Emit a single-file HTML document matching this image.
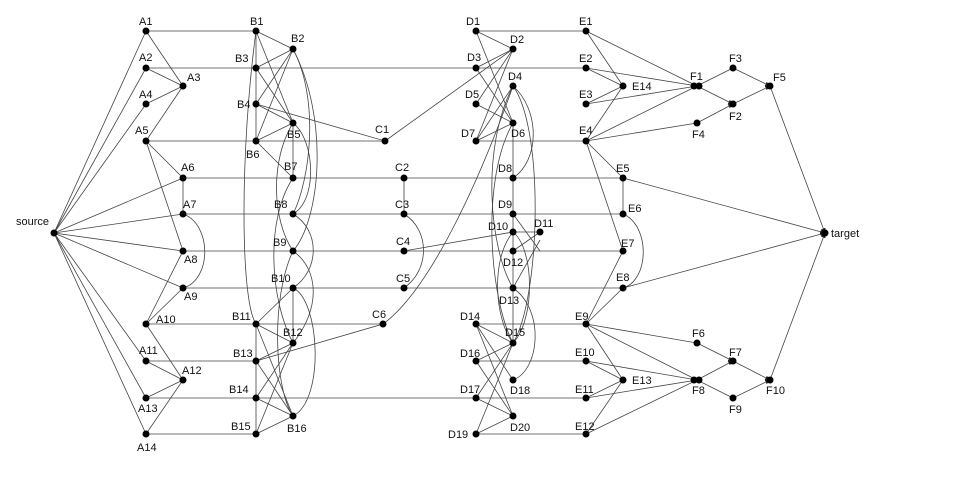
<!DOCTYPE html>
<html><head><meta charset="utf-8">
<style>
html,body{margin:0;padding:0;background:#fff;}
svg{display:block}
text{font-family:"Liberation Sans",sans-serif;font-size:11px;fill:#111}
line,path{stroke:#444;stroke-width:0.8;fill:none}
circle{fill:#000}
</style></head><body>
<svg width="956" height="495" viewBox="0 0 956 495" xmlns="http://www.w3.org/2000/svg">
<defs><marker id="ar" markerWidth="6" markerHeight="6" refX="6" refY="3" orient="auto"><path d="M0,0 L6,3 L0,6 z" style="fill:#222;stroke:none"/></marker></defs>
<g>
<!-- source edges -->
<line x1="54" y1="233" x2="146" y2="31"/>
<line x1="54" y1="233" x2="146" y2="68"/>
<line x1="54" y1="233" x2="146" y2="104"/>
<line x1="54" y1="233" x2="183" y2="178"/>
<line x1="54" y1="233" x2="183" y2="214"/>
<line x1="54" y1="233" x2="183" y2="251"/>
<line x1="54" y1="233" x2="183" y2="288"/>
<line x1="54" y1="233" x2="146" y2="361"/>
<line x1="54" y1="233" x2="146" y2="398"/>
<line x1="54" y1="233" x2="146" y2="434"/>
<!-- horizontals -->
<line x1="146" y1="31" x2="256" y2="31"/>
<line x1="476" y1="31" x2="586" y2="31"/>
<line x1="146" y1="68" x2="586" y2="68"/>
<line x1="146" y1="141" x2="385" y2="141"/>
<line x1="476" y1="141" x2="586" y2="141"/>
<line x1="183" y1="178" x2="623" y2="178"/>
<line x1="183" y1="214" x2="623" y2="214"/>
<line x1="183" y1="251" x2="623" y2="251"/>
<line x1="183" y1="288" x2="623" y2="288"/>
<line x1="146" y1="324" x2="383" y2="324"/>
<line x1="476" y1="324" x2="586" y2="324"/>
<line x1="146" y1="361" x2="256" y2="361"/>
<line x1="476" y1="361" x2="586" y2="361"/>
<line x1="146" y1="398" x2="586" y2="398"/>
<line x1="146" y1="434" x2="256" y2="434"/>
<line x1="476" y1="434" x2="586" y2="434"/>
<!-- A -->
<line x1="146" y1="31" x2="183" y2="86"/>
<line x1="146" y1="68" x2="183" y2="86"/>
<line x1="146" y1="104" x2="183" y2="86"/>
<line x1="183" y1="86" x2="146" y2="141"/>
<line x1="146" y1="141" x2="183" y2="178"/>
<line x1="146" y1="141" x2="183" y2="251"/>
<line x1="183" y1="178" x2="183" y2="214"/>
<path d="M183,214 C212,224 212,280 183,288"/>
<line x1="146" y1="324" x2="183" y2="251"/>
<line x1="146" y1="324" x2="183" y2="288"/>
<line x1="146" y1="324" x2="183" y2="380"/>
<line x1="146" y1="361" x2="183" y2="380"/>
<line x1="146" y1="398" x2="183" y2="380"/>
<line x1="183" y1="380" x2="146" y2="434"/>
<!-- B -->
<line x1="256" y1="31" x2="293" y2="49"/>
<line x1="256" y1="31" x2="256" y2="141"/>
<line x1="256" y1="31" x2="293" y2="123"/>
<path d="M256,31 C240,150 240,300 256,324"/>
<line x1="293" y1="49" x2="256" y2="68"/>
<line x1="293" y1="49" x2="256" y2="104"/>
<line x1="293" y1="49" x2="256" y2="141"/>
<path d="M293,49 C320,100 310,180 293,214"/>
<path d="M293,49 C330,120 320,220 293,251"/>
<line x1="256" y1="68" x2="293" y2="123"/>
<line x1="256" y1="104" x2="293" y2="123"/>
<line x1="256" y1="104" x2="385" y2="141"/>
<line x1="293" y1="123" x2="256" y2="141"/>
<line x1="293" y1="123" x2="293" y2="178"/>
<line x1="256" y1="141" x2="293" y2="178"/>
<path d="M293,123 C315,140 318,200 293,214"/>
<path d="M293,123 C270,160 272,220 293,251"/>
<path d="M293,214 C320,230 320,270 293,288"/>
<path d="M293,251 C320,270 320,310 293,343"/>
<path d="M293,288 C320,300 325,400 293,416"/>
<path d="M293,178 C265,220 270,300 293,343"/>
<line x1="293" y1="288" x2="293" y2="343"/>
<line x1="256" y1="324" x2="293" y2="288"/>
<line x1="256" y1="324" x2="293" y2="343"/>
<line x1="256" y1="324" x2="256" y2="434"/>
<line x1="256" y1="324" x2="293" y2="416"/>
<line x1="256" y1="361" x2="293" y2="343"/>
<line x1="256" y1="361" x2="383" y2="324"/>
<line x1="256" y1="361" x2="293" y2="416"/>
<line x1="256" y1="398" x2="293" y2="343"/>
<line x1="256" y1="398" x2="293" y2="416"/>
<line x1="256" y1="434" x2="293" y2="343"/>
<line x1="256" y1="434" x2="293" y2="416"/>
<path d="M293,251 C270,300 275,390 293,416"/>
<!-- C -->
<line x1="385" y1="141" x2="513" y2="49"/>
<line x1="404" y1="178" x2="404" y2="214"/>
<path d="M404,214 C430,230 430,270 404,288"/>
<line x1="404" y1="251" x2="513" y2="232"/>
<path d="M383,324 C430,290 480,180 513,86"/>
<!-- D -->
<line x1="476" y1="31" x2="513" y2="49"/>
<line x1="476" y1="31" x2="513" y2="123"/>
<line x1="513" y1="49" x2="476" y2="68"/>
<line x1="513" y1="49" x2="476" y2="141"/>
<line x1="513" y1="49" x2="476" y2="104"/>
<line x1="476" y1="68" x2="513" y2="123"/>
<line x1="476" y1="104" x2="513" y2="123"/>
<line x1="476" y1="141" x2="513" y2="123"/>
<line x1="476" y1="141" x2="513" y2="86"/>
<path d="M513,86 C540,110 540,160 513,178"/>
<path d="M513,86 C545,130 540,300 513,343"/>
<path d="M513,86 C480,150 490,250 513,288"/>
<line x1="513" y1="123" x2="513" y2="343"/>
<path d="M513,123 C480,180 490,300 513,343"/>
<line x1="513" y1="214" x2="540" y2="251"/>
<line x1="513" y1="232" x2="540" y2="232"/>
<line x1="513" y1="251" x2="540" y2="232"/>
<path d="M513,232 C535,250 535,320 513,343"/>
<path d="M513,232 C490,260 495,320 513,343"/>
<line x1="513" y1="288" x2="540" y2="240"/>
<path d="M513,288 C545,310 540,370 513,380"/>
<line x1="476" y1="324" x2="513" y2="343"/>
<line x1="476" y1="324" x2="513" y2="380"/>
<line x1="476" y1="324" x2="513" y2="416"/>
<line x1="513" y1="343" x2="476" y2="361"/>
<line x1="513" y1="343" x2="476" y2="398"/>
<line x1="513" y1="343" x2="476" y2="434"/>
<line x1="476" y1="361" x2="513" y2="416"/>
<line x1="476" y1="398" x2="513" y2="416"/>
<line x1="476" y1="434" x2="513" y2="416"/>
<!-- E -->
<line x1="586" y1="31" x2="623" y2="86"/>
<line x1="586" y1="31" x2="697" y2="86"/>
<line x1="586" y1="68" x2="623" y2="86"/>
<line x1="586" y1="68" x2="697" y2="86"/>
<line x1="586" y1="104" x2="623" y2="86"/>
<line x1="586" y1="104" x2="697" y2="86"/>
<line x1="623" y1="86" x2="586" y2="141"/>
<line x1="586" y1="141" x2="697" y2="86"/>
<line x1="586" y1="141" x2="697" y2="123"/>
<line x1="586" y1="141" x2="623" y2="178"/>
<line x1="586" y1="141" x2="623" y2="251"/>
<line x1="623" y1="178" x2="623" y2="214"/>
<line x1="623" y1="178" x2="825" y2="233" marker-end="url(#ar)"/>
<path d="M623,214 C650,225 650,280 623,288"/>
<line x1="623" y1="288" x2="825" y2="233" marker-end="url(#ar)"/>
<line x1="586" y1="324" x2="623" y2="251"/>
<line x1="586" y1="324" x2="623" y2="288"/>
<line x1="586" y1="324" x2="697" y2="343"/>
<line x1="586" y1="324" x2="697" y2="380"/>
<line x1="586" y1="324" x2="623" y2="380"/>
<line x1="586" y1="361" x2="623" y2="380"/>
<line x1="586" y1="361" x2="697" y2="380"/>
<line x1="586" y1="398" x2="623" y2="380"/>
<line x1="586" y1="398" x2="697" y2="380"/>
<line x1="623" y1="380" x2="586" y2="434"/>
<line x1="586" y1="434" x2="697" y2="380"/>
<!-- F -->
<line x1="697" y1="86" x2="733" y2="68"/>
<line x1="697" y1="86" x2="733" y2="104" marker-end="url(#ar)"/>
<line x1="697" y1="123" x2="733" y2="104" marker-end="url(#ar)"/>
<line x1="733" y1="68" x2="770" y2="86" marker-end="url(#ar)"/>
<line x1="733" y1="104" x2="770" y2="86" marker-end="url(#ar)"/>
<line x1="770" y1="86" x2="825" y2="233" marker-end="url(#ar)"/>
<line x1="697" y1="343" x2="733" y2="361" marker-end="url(#ar)"/>
<line x1="697" y1="380" x2="733" y2="361" marker-end="url(#ar)"/>
<line x1="697" y1="380" x2="733" y2="398"/>
<line x1="733" y1="361" x2="770" y2="380" marker-end="url(#ar)"/>
<line x1="733" y1="398" x2="770" y2="380" marker-end="url(#ar)"/>
<line x1="770" y1="380" x2="825" y2="233" marker-end="url(#ar)"/>
</g>
<g>
<circle cx="54" cy="233" r="3.5"/><circle cx="825" cy="233" r="3.5"/>
<circle cx="146" cy="31" r="3.5"/><circle cx="146" cy="68" r="3.5"/><circle cx="183" cy="86" r="3.5"/><circle cx="146" cy="104" r="3.5"/><circle cx="146" cy="141" r="3.5"/><circle cx="183" cy="178" r="3.5"/><circle cx="183" cy="214" r="3.5"/><circle cx="183" cy="251" r="3.5"/><circle cx="183" cy="288" r="3.5"/><circle cx="146" cy="324" r="3.5"/><circle cx="146" cy="361" r="3.5"/><circle cx="183" cy="380" r="3.5"/><circle cx="146" cy="398" r="3.5"/><circle cx="146" cy="434" r="3.5"/>
<circle cx="256" cy="31" r="3.5"/><circle cx="293" cy="49" r="3.5"/><circle cx="256" cy="68" r="3.5"/><circle cx="256" cy="104" r="3.5"/><circle cx="293" cy="123" r="3.5"/><circle cx="256" cy="141" r="3.5"/><circle cx="293" cy="178" r="3.5"/><circle cx="293" cy="214" r="3.5"/><circle cx="293" cy="251" r="3.5"/><circle cx="293" cy="288" r="3.5"/><circle cx="256" cy="324" r="3.5"/><circle cx="293" cy="343" r="3.5"/><circle cx="256" cy="361" r="3.5"/><circle cx="256" cy="398" r="3.5"/><circle cx="293" cy="416" r="3.5"/><circle cx="256" cy="434" r="3.5"/>
<circle cx="385" cy="141" r="3.5"/><circle cx="404" cy="178" r="3.5"/><circle cx="404" cy="214" r="3.5"/><circle cx="404" cy="251" r="3.5"/><circle cx="404" cy="288" r="3.5"/><circle cx="383" cy="324" r="3.5"/>
<circle cx="476" cy="31" r="3.5"/><circle cx="513" cy="49" r="3.5"/><circle cx="476" cy="68" r="3.5"/><circle cx="513" cy="86" r="3.5"/><circle cx="476" cy="104" r="3.5"/><circle cx="513" cy="123" r="3.5"/><circle cx="476" cy="141" r="3.5"/><circle cx="513" cy="178" r="3.5"/><circle cx="513" cy="214" r="3.5"/><circle cx="513" cy="232" r="3.5"/><circle cx="540" cy="232" r="3.5"/><circle cx="513" cy="251" r="3.5"/><circle cx="513" cy="288" r="3.5"/><circle cx="476" cy="324" r="3.5"/><circle cx="513" cy="343" r="3.5"/><circle cx="476" cy="361" r="3.5"/><circle cx="513" cy="380" r="3.5"/><circle cx="476" cy="398" r="3.5"/><circle cx="513" cy="416" r="3.5"/><circle cx="476" cy="434" r="3.5"/>
<circle cx="586" cy="31" r="3.5"/><circle cx="586" cy="68" r="3.5"/><circle cx="623" cy="86" r="3.5"/><circle cx="586" cy="104" r="3.5"/><circle cx="586" cy="141" r="3.5"/><circle cx="623" cy="178" r="3.5"/><circle cx="623" cy="214" r="3.5"/><circle cx="623" cy="251" r="3.5"/><circle cx="623" cy="288" r="3.5"/><circle cx="586" cy="324" r="3.5"/><circle cx="586" cy="361" r="3.5"/><circle cx="623" cy="380" r="3.5"/><circle cx="586" cy="398" r="3.5"/><circle cx="586" cy="434" r="3.5"/>
<circle cx="694" cy="86" r="3.5"/><circle cx="699" cy="86" r="3.5"/><circle cx="733" cy="68" r="3.5"/><circle cx="733" cy="104" r="3.5"/><circle cx="697" cy="123" r="3.5"/><circle cx="770" cy="86" r="3.5"/>
<circle cx="697" cy="343" r="3.5"/><circle cx="733" cy="361" r="3.5"/><circle cx="694" cy="380" r="3.5"/><circle cx="699" cy="380" r="3.5"/><circle cx="733" cy="398" r="3.5"/><circle cx="770" cy="380" r="3.5"/>
</g>
<g>
<text x="16" y="225">source</text><text x="831" y="237">target</text>
<text x="139" y="25">A1</text><text x="139" y="61">A2</text><text x="187" y="81">A3</text><text x="139" y="98">A4</text><text x="135" y="134">A5</text><text x="181" y="171">A6</text><text x="183" y="208">A7</text><text x="184" y="263">A8</text><text x="184" y="300">A9</text><text x="156" y="323">A10</text><text x="139" y="354">A11</text><text x="182" y="374">A12</text><text x="138" y="412">A13</text><text x="137" y="451">A14</text>
<text x="250" y="25">B1</text><text x="291" y="42">B2</text><text x="235" y="62">B3</text><text x="237" y="108">B4</text><text x="287" y="138">B5</text><text x="246" y="158">B6</text><text x="284" y="170">B7</text><text x="274" y="208">B8</text><text x="273" y="246">B9</text><text x="271" y="282">B10</text><text x="232" y="320">B11</text><text x="283" y="336">B12</text><text x="233" y="357">B13</text><text x="229" y="393">B14</text><text x="231" y="430">B15</text><text x="287" y="432">B16</text>
<text x="375" y="133">C1</text><text x="395" y="171">C2</text><text x="395" y="208">C3</text><text x="396" y="245">C4</text><text x="396" y="282">C5</text><text x="372" y="318">C6</text>
<text x="466" y="25">D1</text><text x="510" y="43">D2</text><text x="467" y="61">D3</text><text x="508" y="80">D4</text><text x="465" y="98">D5</text><text x="511" y="137">D6</text><text x="461" y="137">D7</text><text x="498" y="172">D8</text><text x="498" y="208">D9</text><text x="488" y="230">D10</text><text x="534" y="227">D11</text><text x="503" y="266">D12</text><text x="499" y="304">D13</text><text x="460" y="320">D14</text><text x="505" y="336">D15</text><text x="460" y="357">D16</text><text x="510" y="394">D18</text><text x="460" y="393">D17</text><text x="448" y="438">D19</text><text x="510" y="431">D20</text>
<text x="579" y="25">E1</text><text x="579" y="62">E2</text><text x="579" y="98">E3</text><text x="632" y="90">E14</text><text x="579" y="134">E4</text><text x="616" y="172">E5</text><text x="628" y="212">E6</text><text x="621" y="247">E7</text><text x="616" y="281">E8</text><text x="575" y="320">E9</text><text x="575" y="356">E10</text><text x="575" y="393">E11</text><text x="632" y="384">E13</text><text x="575" y="430">E12</text>
<text x="690" y="80">F1</text><text x="729" y="62">F3</text><text x="773" y="81">F5</text><text x="729" y="120">F2</text><text x="692" y="138">F4</text>
<text x="692" y="337">F6</text><text x="729" y="356">F7</text><text x="692" y="394">F8</text><text x="729" y="413">F9</text><text x="766" y="394">F10</text>
</g>
</svg>
</body></html>
